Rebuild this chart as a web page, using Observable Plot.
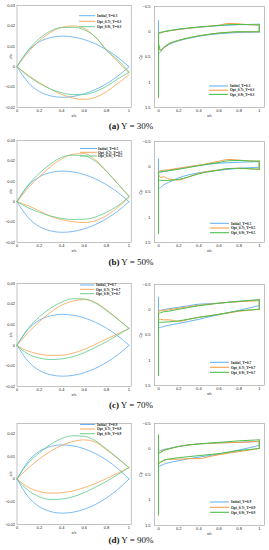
<!DOCTYPE html>
<html><head><meta charset="utf-8">
<script src="https://cdn.jsdelivr.net/npm/d3@7"></script>
<script src="https://cdn.jsdelivr.net/npm/@observablehq/plot@0.6"></script>
<style>
body{margin:0;background:#fff;}
#root{position:relative;width:269px;height:550px;overflow:hidden;background:#fff;}
.pane{position:absolute;}
#overlay{position:absolute;left:0;top:0;pointer-events:none;}
</style></head><body><div id="root"></div>
<script>
// ---------- labels ----------
const seriesNames = ["Initial", "Opt_0.7t", "Opt_0.9t"];
const spanY = ["0.3", "0.5", "0.7", "0.9"];
const panelTags = ["(a)", "(b)", "(c)", "(d)"];
const panelPct = ["30%", "50%", "70%", "90%"];

// ---------- airfoil shapes (z/c vs x/c) ----------
const xAir = [0, 0.05, 0.1, 0.2, 0.3, 0.4, 0.5, 0.6, 0.7, 0.8, 0.9, 1];
const zInitUp = [0, 0.0042, 0.0078, 0.0122, 0.0143, 0.015, 0.0146, 0.0133, 0.0112, 0.0083, 0.0046, 0];
const zInitLo = [0, -0.0042, -0.0078, -0.0122, -0.0143, -0.015, -0.0146, -0.0133, -0.0112, -0.0083, -0.0046, 0];

const zA07Up = [0, 0.0038, 0.007, 0.0128, 0.0168, 0.0193, 0.02, 0.0188, 0.0145, 0.0082, 0.0025, -0.0032];
const zA07Lo = [0, -0.002, -0.0042, -0.0078, -0.011, -0.0136, -0.0154, -0.016, -0.015, -0.0122, -0.0082, -0.004];
const zA09Up = [0, 0.0044, 0.0082, 0.0138, 0.0175, 0.0192, 0.0193, 0.0181, 0.0146, 0.008, 0.0033, -0.0025];
const zA09Lo = [0, -0.0024, -0.0046, -0.0082, -0.011, -0.0128, -0.0137, -0.0136, -0.0122, -0.0096, -0.006, -0.0028];

const zB07Up = [0, 0.0035, 0.0068, 0.0122, 0.0172, 0.021, 0.0233, 0.0236, 0.0205, 0.015, 0.0088, 0.0025];
const zB07Lo = [0, -0.001, -0.002, -0.0045, -0.0072, -0.0088, -0.0098, -0.0102, -0.0093, -0.0068, -0.0028, 0.002];
const zB09Up = [0, 0.0045, 0.0082, 0.014, 0.0185, 0.0218, 0.0228, 0.0225, 0.0198, 0.0148, 0.0088, 0.0028];
const zB09Lo = [0, -0.0015, -0.003, -0.0052, -0.007, -0.0082, -0.0087, -0.0086, -0.0075, -0.0052, -0.002, 0.0025];

const zC07Up = [0, 0.0032, 0.0062, 0.0115, 0.016, 0.0195, 0.0215, 0.0222, 0.0208, 0.0172, 0.0128, 0.0082];
const zC07Lo = [0, -0.0017, -0.0028, -0.0043, -0.0049, -0.0048, -0.0038, -0.002, 0.0005, 0.003, 0.0056, 0.0082];
const zC09Up = [0, 0.0045, 0.0082, 0.0138, 0.018, 0.021, 0.0226, 0.0225, 0.0205, 0.0168, 0.0126, 0.0082];
const zC09Lo = [0, -0.0025, -0.0042, -0.0062, -0.0069, -0.0066, -0.0055, -0.0036, -0.001, 0.0018, 0.005, 0.0082];

const zD07Up = [0, 0.0025, 0.0048, 0.0088, 0.0122, 0.0148, 0.0165, 0.0172, 0.0162, 0.0128, 0.009, 0.005];
const zD07Lo = [0, -0.002, -0.0036, -0.0055, -0.0062, -0.006, -0.0052, -0.0038, -0.002, 0.0002, 0.0026, 0.005];
const zD09Up = [0, 0.0038, 0.007, 0.0115, 0.0152, 0.0178, 0.019, 0.0188, 0.0168, 0.0132, 0.0092, 0.005];
const zD09Lo = [0, -0.0028, -0.005, -0.0078, -0.009, -0.0088, -0.0078, -0.006, -0.0036, -0.001, 0.002, 0.005];

// ---------- pressure coefficient (Cp vs x/c) ----------
const xCp = [0, 0.02, 0.05, 0.1, 0.2, 0.3, 0.4, 0.5, 0.6, 0.7, 0.8, 0.9, 1];

const cpAInitUp = [0.03, 0.02, 0.0, -0.02, -0.05, -0.07, -0.09, -0.105, -0.12, -0.13, -0.14, -0.145, -0.15];
const cpAInitLo = [0.43, 0.4, 0.33, 0.26, 0.18, 0.13, 0.09, 0.06, 0.04, 0.025, 0.015, 0.01, 0.005];
const cpA07Up = [0.03, 0.025, 0.005, -0.015, -0.045, -0.07, -0.09, -0.11, -0.13, -0.165, -0.155, -0.14, -0.135];
const cpA07Lo = [0.25, 0.38, 0.32, 0.25, 0.17, 0.12, 0.08, 0.05, 0.025, 0.01, 0.0, 0.0, 0.0];
const cpA09Up = [0.02, 0.015, 0.0, -0.02, -0.05, -0.075, -0.095, -0.11, -0.125, -0.14, -0.145, -0.14, -0.135];
const cpA09Lo = [0.23, 0.36, 0.31, 0.24, 0.17, 0.12, 0.08, 0.05, 0.025, 0.01, 0.0, 0.0, 0.0];
const spikeTopA = [-0.22, 0.03, 0.02];
const spikeBotA = [1.3, 1.3, 1.29];

const cpBInitUp = [0.12, 0.11, 0.095, 0.075, 0.035, 0.0, -0.03, -0.05, -0.07, -0.08, -0.09, -0.095, -0.1];
const cpBInitLo = [0.43, 0.41, 0.36, 0.31, 0.22, 0.16, 0.12, 0.09, 0.07, 0.05, 0.03, 0.02, 0.01];
const cpB07Up = [0.08, 0.075, 0.07, 0.06, 0.03, 0.0, -0.03, -0.07, -0.11, -0.145, -0.13, -0.115, -0.11];
const cpB07Lo = [0.15, 0.21, 0.2, 0.24, 0.26, 0.2, 0.13, 0.09, 0.06, 0.035, 0.03, 0.04, 0.05];
const cpB09Up = [0.11, 0.1, 0.09, 0.08, 0.05, 0.015, -0.02, -0.055, -0.085, -0.12, -0.125, -0.115, -0.11];
const cpB09Lo = [0.27, 0.27, 0.27, 0.27, 0.25, 0.2, 0.14, 0.1, 0.065, 0.035, 0.03, 0.04, 0.05];
const spikeTopB = [-0.15, 0.08, 0.1];
const spikeBotB = [1.3, 1.3, 1.32];

const cpCInitUp = [0.02, 0.01, 0.0, -0.02, -0.05, -0.08, -0.11, -0.12, -0.13, -0.15, -0.17, -0.18, -0.19];
const cpCInitLo = [0.36, 0.35, 0.33, 0.31, 0.27, 0.23, 0.19, 0.14, 0.1, 0.055, 0.01, -0.035, -0.08];
const cpC07Up = [0.03, 0.02, 0.01, 0.0, -0.03, -0.06, -0.09, -0.11, -0.13, -0.145, -0.16, -0.17, -0.18];
const cpC07Lo = [0.19, 0.19, 0.2, 0.2, 0.23, 0.19, 0.15, 0.12, 0.09, 0.06, 0.03, 0.01, -0.01];
const cpC09Up = [0.07, 0.06, 0.04, 0.03, -0.01, -0.045, -0.08, -0.105, -0.13, -0.15, -0.165, -0.185, -0.2];
const cpC09Lo = [0.25, 0.25, 0.245, 0.24, 0.22, 0.185, 0.15, 0.12, 0.09, 0.055, 0.02, 0.005, -0.01];
const spikeTopC = [-0.25, 0.03, 0.07];
const spikeBotC = [1.3, 1.3, 1.3];

const cpDInitUp = [0.04, 0.03, 0.01, -0.01, -0.05, -0.08, -0.1, -0.11, -0.12, -0.125, -0.13, -0.14, -0.145];
const cpDInitLo = [0.35, 0.33, 0.3, 0.27, 0.23, 0.19, 0.16, 0.13, 0.1, 0.06, 0.02, -0.025, -0.07];
const cpD07Up = [0.08, 0.06, 0.02, 0.0, -0.05, -0.08, -0.1, -0.11, -0.12, -0.125, -0.13, -0.14, -0.15];
const cpD07Lo = [0.24, 0.26, 0.23, 0.2, 0.2, 0.19, 0.19, 0.15, 0.11, 0.08, 0.05, 0.02, -0.01];
const cpD09Up = [0.08, 0.07, 0.03, 0.0, -0.05, -0.08, -0.1, -0.115, -0.13, -0.145, -0.16, -0.17, -0.18];
const cpD09Lo = [0.3, 0.26, 0.22, 0.2, 0.17, 0.15, 0.13, 0.11, 0.09, 0.06, 0.03, 0.01, -0.01];
const spikeTopD = [-0.1, 0.06, -0.28];
const spikeBotD = [1.3, 1.3, 1.28];

// ---------- grouping (built from the arrays above) ----------
const airUp = [[zInitUp, zA07Up, zA09Up], [zInitUp, zB07Up, zB09Up], [zInitUp, zC07Up, zC09Up], [zInitUp, zD07Up, zD09Up]];
const airLo = [[zInitLo, zA07Lo, zA09Lo], [zInitLo, zB07Lo, zB09Lo], [zInitLo, zC07Lo, zC09Lo], [zInitLo, zD07Lo, zD09Lo]];
const cpUp = [[cpAInitUp, cpA07Up, cpA09Up], [cpBInitUp, cpB07Up, cpB09Up], [cpCInitUp, cpC07Up, cpC09Up], [cpDInitUp, cpD07Up, cpD09Up]];
const cpLo = [[cpAInitLo, cpA07Lo, cpA09Lo], [cpBInitLo, cpB07Lo, cpB09Lo], [cpCInitLo, cpC07Lo, cpC09Lo], [cpDInitLo, cpD07Lo, cpD09Lo]];
const spTop = [spikeTopA, spikeTopB, spikeTopC, spikeTopD];
const spBot = [spikeBotA, spikeBotB, spikeBotC, spikeBotD];

// ---------- styling / layout ----------
const airColors = ["#5aa9f2", "#f7a24e", "#5cc98a"];
const cpColors = ["#6ab4f4", "#f5a04a", "#4cbf4c"];
const layout = [
  {lTop: 5, lBot: 107, rTop: 6, rBot: 107, cap: 126, yDom: [-0.02, 0.03], yTicks: [-0.02, -0.01, 0, 0.01, 0.02, 0.03],
   legL: {x0: 79, x1: 95, tx: 97, ys: [15.7, 21.3, 26.7]}, legR: {x0: 209, x1: 228, tx: 230, ys: [86, 90.2, 94.4]}},
  {lTop: 140, lBot: 242, rTop: 141, rBot: 242, cap: 262, yDom: [-0.02, 0.03], yTicks: [-0.02, -0.01, 0, 0.01, 0.02, 0.03],
   legL: {x0: 80, x1: 97, tx: 98, ys: [148.5, 152.3, 156]}, legR: {x0: 210, x1: 229, tx: 231, ys: [223.3, 228, 232.7]}},
  {lTop: 283, lBot: 386, rTop: 284, rBot: 385, cap: 405, yDom: [-0.02, 0.03], yTicks: [-0.02, -0.01, 0, 0.01, 0.02, 0.03],
   legL: {x0: 80, x1: 94, tx: 96, ys: [285, 289.3, 293.7]}, legR: {x0: 210, x1: 229, tx: 231, ys: [362.3, 367.3, 372.3]}},
  {lTop: 423, lBot: 524, rTop: 423, rBot: 525, cap: 540, yDom: [-0.02, 0.0244], yTicks: [-0.02, -0.01, 0, 0.01, 0.02],
   legL: {x0: 80, x1: 95, tx: 97, ys: [424.5, 429, 433.7]}, legR: {x0: 210, x1: 229, tx: 231, ys: [502, 507.3, 512.3]}}
];

const baseStyle = {fontSize: "4px", fontFamily: "'Liberation Sans', Arial, sans-serif", background: "transparent", overflow: "visible", color: "#222"};
const fmtZ = d => d === 0 ? "0" : d3.format(".2~f")(d);
const fmtG = d3.format("~g");
const root = document.getElementById("root");
const MT = 1, MB = 12;

function place(node, left, top) {
  const div = document.createElement("div");
  div.className = "pane";
  div.style.left = left + "px";
  div.style.top = top + "px";
  div.appendChild(node);
  root.appendChild(div);
}

for (let r = 0; r < 4; r++) {
  const L = layout[r];
  // airfoil table
  const air = [];
  for (let s = 0; s < 3; s++) {
    xAir.forEach((x, i) => air.push({s: seriesNames[s], part: "up", x, z: airUp[r][s][i]}));
    xAir.forEach((x, i) => air.push({s: seriesNames[s], part: "lo", x, z: airLo[r][s][i]}));
  }
  const left = Plot.plot({
    width: 134, height: L.lBot - L.lTop + MT + MB,
    marginTop: MT, marginBottom: MB, marginLeft: 16.5, marginRight: 3.3,
    x: {domain: [0, 1.02]},
    y: {domain: L.yDom},
    color: {domain: seriesNames, range: airColors},
    style: baseStyle,
    marks: [
      Plot.frame({stroke: "#9a9a9a", strokeWidth: 0.6}),
      Plot.axisX({ticks: [0, 0.2, 0.4, 0.6, 0.8, 1], tickFormat: fmtG, tickSize: 0, tickPadding: 1.5,
        label: "x/c", labelAnchor: "center", labelArrow: "none", labelOffset: 9}),
      Plot.axisY({ticks: L.yTicks, tickFormat: fmtZ, tickSize: 0, tickPadding: 2,
        label: "z/c", labelAnchor: "center", labelArrow: "none", labelOffset: 8}),
      Plot.line(air, {x: "x", y: "z", z: d => d.s + d.part, stroke: "s", strokeWidth: 0.8, curve: "monotone-x"})
    ]
  });
  place(left, 0, L.lTop - MT);

  // Cp tables
  const smooth = [], straight = [];
  for (let s = 0; s < 3; s++) {
    const up = cpUp[r][s], lo = cpLo[r][s];
    xCp.forEach((x, i) => smooth.push({s: seriesNames[s], part: "up", x, cp: up[i]}));
    xCp.forEach((x, i) => smooth.push({s: seriesNames[s], part: "lo", x, cp: lo[i]}));
    straight.push({s: seriesNames[s], part: "le", x: xCp[0], cp: spTop[r][s]});
    straight.push({s: seriesNames[s], part: "le", x: xCp[0], cp: spBot[r][s]});
    straight.push({s: seriesNames[s], part: "te", x: xCp[xCp.length - 1], cp: up[up.length - 1]});
    straight.push({s: seriesNames[s], part: "te", x: xCp[xCp.length - 1], cp: lo[lo.length - 1]});
  }
  const right = Plot.plot({
    width: 135, height: L.rBot - L.rTop + MT + MB,
    marginTop: MT, marginBottom: MB, marginLeft: 20, marginRight: 5,
    x: {domain: [-0.04, 1.052]},
    y: {domain: [-0.5, 1.5], reverse: true},
    color: {domain: seriesNames, range: cpColors},
    style: baseStyle,
    marks: [
      Plot.frame({stroke: "#9a9a9a", strokeWidth: 0.6}),
      Plot.axisX({ticks: [0, 0.2, 0.4, 0.6, 0.8, 1], tickFormat: fmtG, tickSize: 0, tickPadding: 1.5,
        label: "x/c", labelAnchor: "center", labelArrow: "none", labelOffset: 9}),
      Plot.axisY({ticks: [-0.5, 0, 0.5, 1, 1.5], tickFormat: fmtG, tickSize: 0, tickPadding: 4,
        label: "Cp", labelAnchor: "center", labelArrow: "none", labelOffset: 15}),
      Plot.line(smooth, {x: "x", y: "cp", z: d => d.s + d.part, stroke: "s", strokeWidth: 1, curve: "monotone-x"}),
      Plot.line(straight, {x: "x", y: "cp", z: d => d.s + d.part, stroke: "s", strokeWidth: 1})
    ]
  });
  place(right, 134, L.rTop - MT);
}

// ---------- legends and captions (overlay) ----------
const ov = d3.select(root).append("svg").attr("id", "overlay").attr("width", 269).attr("height", 550);
function legend(cfg, colors, lw, yv) {
  cfg.ys.forEach((y, i) => {
    ov.append("line").attr("x1", cfg.x0).attr("x2", cfg.x1).attr("y1", y).attr("y2", y)
      .attr("stroke", colors[i]).attr("stroke-width", lw);
    ov.append("text").attr("x", cfg.tx).attr("y", y).attr("dy", "0.35em")
      .attr("font-family", "'Liberation Serif', serif").attr("font-weight", "bold")
      .attr("font-size", 3.6).attr("fill", "#222")
      .text(seriesNames[i] + "_Y=" + yv);
  });
}
for (let r = 0; r < 4; r++) {
  const L = layout[r];
  legend(L.legL, airColors, 0.9, spanY[r]);
  legend(L.legR, cpColors, 1.1, spanY[r]);
  const t = ov.append("text").attr("x", 131).attr("y", L.cap).attr("dy", "0.35em").attr("text-anchor", "middle")
    .attr("font-family", "'Liberation Serif', serif").attr("font-size", 9).attr("fill", "#111");
  t.append("tspan").attr("font-weight", "bold").text(panelTags[r]);
  t.append("tspan").text(" Y = " + panelPct[r]);
}
</script></body></html>
